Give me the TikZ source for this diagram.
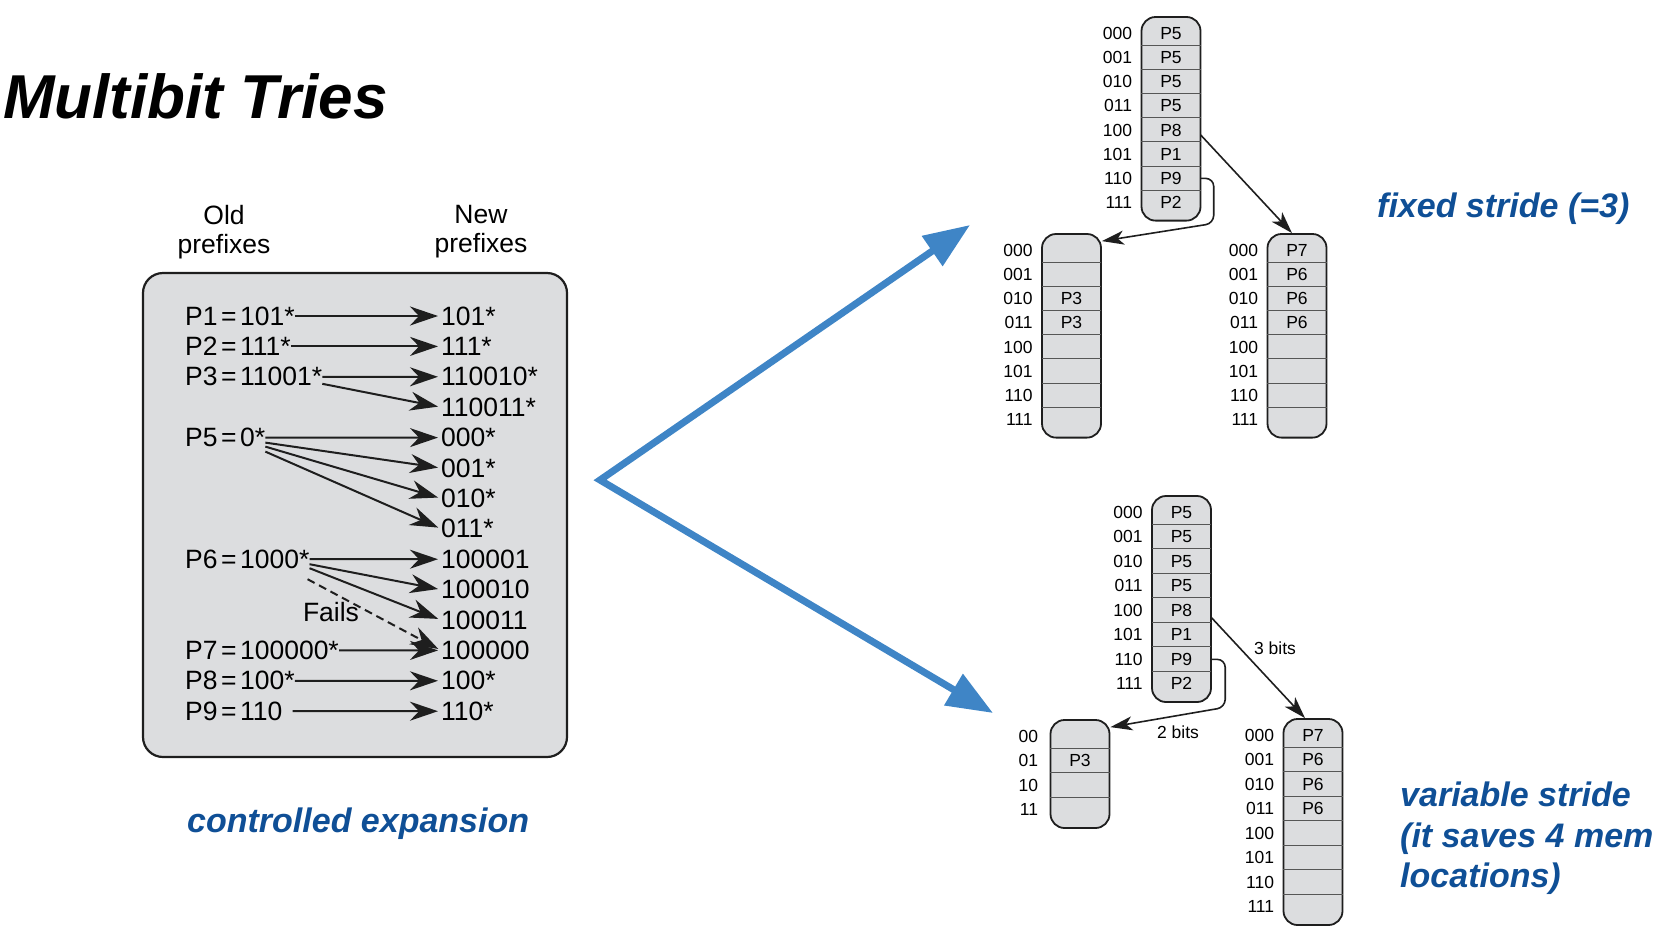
\documentclass[tikz,border=0pt]{standalone}
\usepackage{fontspec}
\setmainfont{Liberation Sans}
\usetikzlibrary{arrows.meta,positioning,calc}

\definecolor{boxgray}{HTML}{DCDDDF}
\definecolor{inkblue}{HTML}{0F4F96}
\definecolor{arrowblue}{HTML}{3F85C6}
\definecolor{ink}{HTML}{1E1E1E}
\newcommand{\peq}{\kern3.5pt=\kern3.5pt}

\begin{document}
\begin{tikzpicture}[x=1pt,y=-1pt,
    pfx/.style={inner sep=0pt,anchor=west,font=\fontsize{26.5}{29}\selectfont},
    expand/.style={draw=ink,line width=2pt,-{Stealth[length=28pt,width=19pt,inset=9pt]},shorten >=3pt},
    trie/.style={draw=ink,fill=boxgray,line width=1.8pt,rounded corners=14pt,minimum width=59pt,inner sep=0pt},
    slot/.style={inner sep=0pt,minimum width=59pt,font=\fontsize{17.5}{19}\selectfont},
    bits/.style={inner sep=0pt,anchor=east,font=\fontsize{17.5}{19}\selectfont},
    rowline/.style={draw=ink!75,line width=1pt},
    link/.style={draw=ink,line width=1.6pt,-{Stealth[length=22pt,width=14pt,inset=6pt]}},
    note/.style={text=inkblue,inner sep=0pt,font=\fontsize{34}{40.5}\selectfont\bfseries\itshape},
    fork/.style={draw=arrowblue,line width=7pt,{Triangle[length=46pt,width=35pt]}-{Triangle[length=46pt,width=35pt]}}]
    \useasboundingbox (0,0) rectangle (1659,935);

    % title
    \node[anchor=base west,inner sep=0pt,font=\fontsize{62}{62}\selectfont\bfseries\itshape] (title) at (3,118) {Multibit Tries};

    % expansion box and headings
    \node[draw=ink,fill=boxgray,line width=2.2pt,rounded corners=20pt,minimum width=424pt,minimum height=484pt,inner sep=0pt] (expbox) at (355,515) {};
    \node[align=center,font=\fontsize{26.5}{29}\selectfont] (oldhd) at (224,232) {Old\\prefixes};
    \node[align=center,font=\fontsize{26.5}{29}\selectfont] (newhd) at (481,232) {New\\prefixes};

    % new prefixes, one row each
    \foreach \t [count=\i from 0] in {101*,111*,110010*,110011*,000*,001*,010*,011*,100001,100010,100011,100000,100*,110*}
        \node[pfx] (n\i) at (441,316+30.4*\i) {\t};

    % old prefixes
    \node[pfx] (p1) at (185,316) {P1\peq101*};
    \node[pfx] (p2) at (185,346.4) {P2\peq111*};
    \node[pfx] (p3) at (185,376.8) {P3\peq11001*};
    \node[pfx] (p5) at (185,437.6) {P5\peq0*};
    \node[pfx] (p6) at (185,559.2) {P6\peq1000*};
    \node[pfx] (p7) at (185,650.4) {P7\peq100000*};
    \node[pfx] (p8) at (185,680.8) {P8\peq100*};
    \node[pfx] (p9) at (185,711.2) {P9\peq110};
    \node[pfx,anchor=center] (fails) at (331,612) {Fails};

    % expansion arrows
    \draw[expand] (p1.east) -- (n0.west);
    \draw[expand] (p2.east) -- (n1.west);
    \draw[expand] (p3.east) -- (n2.west);
    \draw[expand] ([shift={(0,7)}]p3.east) -- (n3.west);
    \draw[expand] (p5.east) -- (n4.west);
    \draw[expand] ([shift={(0,5)}]p5.east) -- (n5.west);
    \draw[expand] ([shift={(0,9)}]p5.east) -- (n6.west);
    \draw[expand] ([shift={(0,14)}]p5.east) -- (n7.west);
    \draw[expand] (p6.east) -- (n8.west);
    \draw[expand] ([shift={(0,5)}]p6.east) -- (n9.west);
    \draw[expand] ([shift={(0,9)}]p6.east) -- (n10.west);
    \draw[expand,dash pattern=on 8pt off 5pt] ([shift={(-2,20)}]p6.east) -- (n11.west);
    \draw[expand] (p7.east) -- (n11.west);
    \draw[expand] (p8.east) -- (n12.west);
    \draw[expand] ([shift={(10,0)}]p9.east) -- (n13.west);
    \node[note,anchor=base west] (expnote) at (187,832) {controlled expansion};

    % big blue fork
    \coordinate (split) at (600,480);
    \coordinate (fixedend) at (970,225);
    \coordinate (varend) at (993,713);
    \draw[fork] (fixedend) -- (split) -- (varend);

    % fixed stride: root
    \node[trie,minimum height=8*24.2+10] (froot) at (1171,17+4*24.2+5) {};
    \foreach \b/\p [count=\i from 0] in {000/P5,001/P5,010/P5,011/P5,100/P8,101/P1,110/P9,111/P2} {
        \node[slot,minimum height=24.2] (froot-\i) at ($(froot.north)+(0,5+12.1+24.2*\i)$) {\p};
        \node[bits] at ([xshift=-9pt]froot-\i.west) {\b};
    }
    \foreach \i in {1,...,7} \draw[rowline] (froot-\i.north west) -- (froot-\i.north east);

    % fixed stride: left child
    \node[trie,minimum height=8*24.2+10] (fleft) at (1071.5,234+4*24.2+5) {};
    \foreach \b/\p [count=\i from 0] in {000/{},001/{},010/P3,011/P3,100/{},101/{},110/{},111/{}} {
        \node[slot,minimum height=24.2] (fleft-\i) at ($(fleft.north)+(0,5+12.1+24.2*\i)$) {\p};
        \node[bits] at ([xshift=-9pt]fleft-\i.west) {\b};
    }
    \foreach \i in {1,...,7} \draw[rowline] (fleft-\i.north west) -- (fleft-\i.north east);

    % fixed stride: right child
    \node[trie,minimum height=8*24.2+10] (fright) at (1297,234+4*24.2+5) {};
    \foreach \b/\p [count=\i from 0] in {000/P7,001/P6,010/P6,011/P6,100/{},101/{},110/{},111/{}} {
        \node[slot,minimum height=24.2] (fright-\i) at ($(fright.north)+(0,5+12.1+24.2*\i)$) {\p};
        \node[bits] at ([xshift=-9pt]fright-\i.west) {\b};
    }
    \foreach \i in {1,...,7} \draw[rowline] (fright-\i.north west) -- (fright-\i.north east);

    \draw[link] ([yshift=-5pt]froot-4.east) -- ([xshift=-5pt]fright.north);
    \draw[link,rounded corners=8pt] (froot-6.east) -- ++(13,0) -- ++(0,45) -- ([yshift=-8pt]fleft.north east);
    \node[note,anchor=base west] (fixednote) at (1377,217) {fixed stride (=3)};

    % variable stride: root
    \node[trie,minimum height=8*24.5+10] (vroot) at (1181.5,496+4*24.5+5) {};
    \foreach \b/\p [count=\i from 0] in {000/P5,001/P5,010/P5,011/P5,100/P8,101/P1,110/P9,111/P2} {
        \node[slot,minimum height=24.5] (vroot-\i) at ($(vroot.north)+(0,5+12.25+24.5*\i)$) {\p};
        \node[bits] at ([xshift=-9pt]vroot-\i.west) {\b};
    }
    \foreach \i in {1,...,7} \draw[rowline] (vroot-\i.north west) -- (vroot-\i.north east);

    % variable stride: 2 bit child
    \node[trie,minimum height=4*24.5+10] (vleft) at (1080,720+2*24.5+5) {};
    \foreach \b/\p [count=\i from 0] in {00/{},01/P3,10/{},11/{}} {
        \node[slot,minimum height=24.5] (vleft-\i) at ($(vleft.north)+(0,5+12.25+24.5*\i)$) {\p};
        \node[bits] at ([xshift=-12pt]vleft-\i.west) {\b};
    }
    \foreach \i in {1,...,3} \draw[rowline] (vleft-\i.north west) -- (vleft-\i.north east);

    % variable stride: 3 bit child
    \node[trie,minimum height=8*24.5+10] (vright) at (1313,719+4*24.5+5) {};
    \foreach \b/\p [count=\i from 0] in {000/P7,001/P6,010/P6,011/P6,100/{},101/{},110/{},111/{}} {
        \node[slot,minimum height=24.5] (vright-\i) at ($(vright.north)+(0,5+12.25+24.5*\i)$) {\p};
        \node[bits] at ([xshift=-9pt]vright-\i.west) {\b};
    }
    \foreach \i in {1,...,7} \draw[rowline] (vright-\i.north west) -- (vright-\i.north east);

    \draw[link] ([yshift=-7pt]vroot-4.east) -- ([xshift=-8pt]vright.north);
    \draw[link,rounded corners=8pt] (vroot-6.east) -- ++(14,0) -- ++(0,48) -- ([yshift=-8pt]vleft.north east);
    \node[bits,anchor=center] (threebits) at (1275,648) {3 bits};
    \node[bits,anchor=center] (twobits) at (1178,732) {2 bits};
    \node[note,anchor=north west,align=left] (varnote) at (1400,782) {variable stride\\(it saves 4 mem\\locations)};
\end{tikzpicture}
\end{document}
